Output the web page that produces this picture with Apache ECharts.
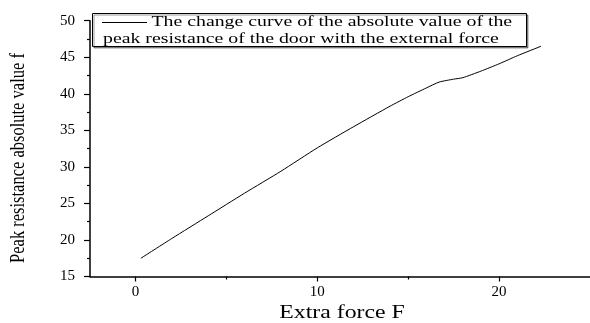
<!DOCTYPE html>
<html>
<head>
<meta charset="utf-8">
<script src="https://cdn.jsdelivr.net/npm/echarts@6/dist/echarts.min.js"></script>
<style>html,body{margin:0;padding:0;background:#fff}#c{width:590px;height:323px}</style>
</head>
<body>
<div id="c"></div>
<script>
const xValues = [0.3, 2, 4, 6, 8, 10, 12, 14, 15, 16, 16.7, 17.5, 18, 19, 20, 21, 22.3];
const yValues = [17.5, 20.2, 23.3, 26.4, 29.4, 32.6, 35.5, 38.3, 39.6, 40.8, 41.6, 42.0, 42.2, 43.1, 44.1, 45.2, 46.5];
const xMajorTicks = [0, 10, 20];
const xMinorTicks = [5, 15];
const legendLine1 = 'The change curve of the absolute value of the';
const legendLine2 = 'peak resistance of the door with the external force';
const xTitle = 'Extra force F';
const yTitle = 'Peak resistance absolute value f';

const FONT = 'Liberation Serif';
const SX = 1.32;
const chart = echarts.init(document.getElementById('c'), null, {renderer: 'canvas'});
const baseX = {
  type: 'value', min: -2.5, max: 25, position: 'bottom',
  splitLine: {show: false}
};
chart.setOption({
  animation: false,
  backgroundColor: '#fff',
  grid: {left: 90, right: 0, top: 20.7, bottom: 46.5},
  xAxis: [
    Object.assign({}, baseX, {
      axisLine: {show: true, onZero: false, lineStyle: {color: '#000', width: 1.5}},
      axisTick: {show: true, length: 5, customValues: xMajorTicks, lineStyle: {color: '#000', width: 1.2}},
      axisLabel: {customValues: xMajorTicks, fontFamily: FONT, fontSize: 15, color: '#000', margin: 8}
    }),
    Object.assign({}, baseX, {
      axisLine: {show: false, onZero: false},
      axisTick: {show: true, length: 3, customValues: xMinorTicks, lineStyle: {color: '#000', width: 1.2}},
      axisLabel: {show: false}
    })
  ],
  yAxis: {
    type: 'value', min: 15, max: 50, interval: 5,
    splitLine: {show: false},
    axisLine: {show: true, onZero: false, lineStyle: {color: '#000', width: 1.5}},
    axisTick: {show: true, length: 6, lineStyle: {color: '#000', width: 1.2}},
    minorTick: {show: true, splitNumber: 2, length: 3, lineStyle: {color: '#000', width: 1.2}},
    axisLabel: {fontFamily: FONT, fontSize: 15, color: '#000', margin: 15}
  },
  series: [{
    type: 'line', xAxisIndex: 0,
    data: xValues.map((x, i) => [x, yValues[i]]),
    showSymbol: false, symbol: 'none', smooth: 0.2,
    lineStyle: {color: '#000', width: 1}
  }],
  graphic: [
    {type: 'rect', shape: {x: 92.5, y: 13.5, width: 434, height: 33},
     style: {fill: '#fff', stroke: '#000', lineWidth: 1, shadowColor: 'rgba(0,0,0,0.4)', shadowOffsetX: 1.5, shadowOffsetY: 1.5}},
    {type: 'line', shape: {x1: 102, y1: 22.5, x2: 147, y2: 22.5}, style: {stroke: '#000', lineWidth: 1}},
    {type: 'text', x: 151.5, y: 22.5, scaleX: SX, style: {text: legendLine1, font: '15px "Liberation Serif"', fill: '#000', verticalAlign: 'middle'}},
    {type: 'text', x: 103, y: 39, scaleX: SX, style: {text: legendLine2, font: '15px "Liberation Serif"', fill: '#000', verticalAlign: 'middle'}},
    {type: 'text', x: 342, y: 313, scaleX: SX, style: {text: xTitle, font: '18px "Liberation Serif"', fill: '#000', align: 'center', verticalAlign: 'middle'}},
    {type: 'text', x: 19, y: 158, rotation: Math.PI / 2, scaleY: 1.25, style: {text: yTitle, font: '16.5px "Liberation Serif"', fill: '#000', align: 'center', verticalAlign: 'middle'}}
  ]
});
</script>
</body>
</html>
